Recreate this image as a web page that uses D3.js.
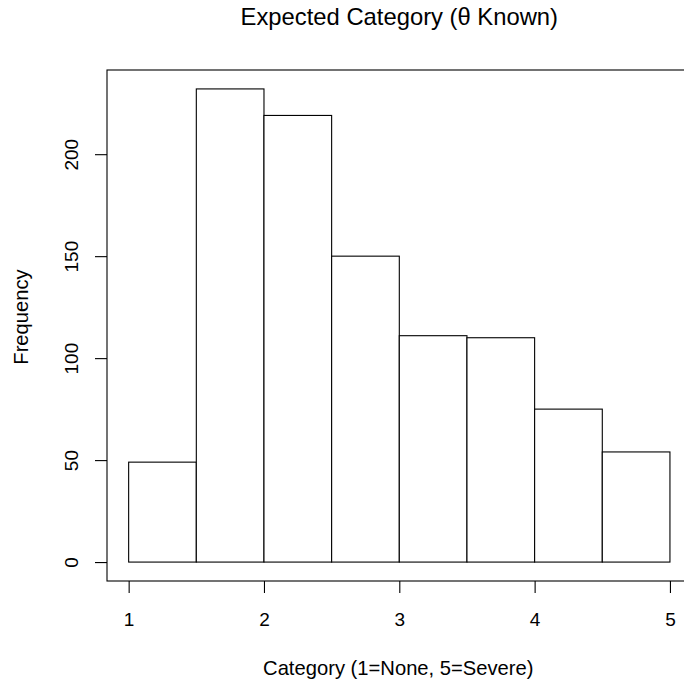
<!DOCTYPE html>
<html>
<head>
<meta charset="utf-8">
<script src="https://cdn.jsdelivr.net/npm/d3@7"></script>
<style>
  body { margin: 0; background: #fff; }
  text { font-family: "Liberation Sans", Arial, sans-serif; fill: #000; }
</style>
</head>
<body>
<script>
// histogram bins (break points) and counts
var breaks = [1, 1.5, 2, 2.5, 3, 3.5, 4, 4.5, 5];
var counts = [49, 232, 219, 150, 111, 110, 75, 54];
var xTicks = [1, 2, 3, 4, 5];
var yTicks = [0, 50, 100, 150, 200];

var bins = counts.map(function(c, i) {
    return { x0: breaks[i], x1: breaks[i + 1], n: c };
});

var width = 684, height = 686;
var plot = { left: 107, right: 691.6, top: 70, bottom: 581 };

var svg = d3.select("body").append("svg")
    .attr("width", width)
    .attr("height", height);

// R style: data range padded by 4% on each side
var xPad = (d3.max(breaks) - d3.min(breaks)) * 0.04;
var x = d3.scaleLinear()
    .domain([d3.min(breaks) - xPad, d3.max(breaks) + xPad])
    .range([plot.left, plot.right]);

var yMax = d3.max(counts);
var y = d3.scaleLinear()
    .domain([-yMax * 0.04, yMax * 1.04])
    .range([plot.bottom, plot.top]);

// bars
svg.append("g")
    .selectAll("rect")
    .data(bins)
    .enter().append("rect")
    .attr("x", function(d) { return x(d.x0); })
    .attr("y", function(d) { return y(d.n); })
    .attr("width", function(d) { return x(d.x1) - x(d.x0); })
    .attr("height", function(d) { return y(0) - y(d.n); })
    .attr("fill", "#fff")
    .attr("stroke", "#000")
    .attr("stroke-width", 1.1);

// box around plot region (goes off the right edge)
svg.append("rect")
    .attr("x", plot.left)
    .attr("y", plot.top)
    .attr("width", plot.right - plot.left)
    .attr("height", plot.bottom - plot.top)
    .attr("fill", "none")
    .attr("stroke", "#000")
    .attr("stroke-width", 1.1);

// x axis
var xAxis = svg.append("g")
    .attr("transform", "translate(0," + plot.bottom + ")")
    .call(d3.axisBottom(x).tickValues(xTicks).tickSize(12).tickPadding(20)
        .tickFormat(d3.format("d")));
xAxis.select(".domain").remove();
xAxis.selectAll("line").attr("stroke", "#000").attr("stroke-width", 1.1);
xAxis.selectAll("text")
    .attr("font-size", "19px")
    .attr("font-family", "Liberation Sans, Arial, sans-serif");

// y axis (labels rotated like R's default las=0)
var yAxis = svg.append("g")
    .attr("transform", "translate(" + plot.left + ",0)")
    .call(d3.axisLeft(y).tickValues(yTicks).tickSize(12).tickFormat(d3.format("d")));
yAxis.select(".domain").remove();
yAxis.selectAll("line").attr("stroke", "#000").attr("stroke-width", 1.1);
yAxis.selectAll("text")
    .attr("x", null).attr("dy", null)
    .attr("transform", "translate(-29,0) rotate(-90)")
    .attr("text-anchor", "middle")
    .attr("font-size", "19px")
    .attr("font-family", "Liberation Sans, Arial, sans-serif");

var midX = (plot.left + plot.right) / 2;

// title
svg.append("text")
    .attr("x", midX)
    .attr("y", 25)
    .attr("text-anchor", "middle")
    .style("font-size", "23.8px")
    .text("Expected Category (\u03b8 Known)");

// axis labels
svg.append("text")
    .attr("x", midX - 1)
    .attr("y", 675)
    .attr("text-anchor", "middle")
    .style("font-size", "20.2px")
    .text("Category (1=None, 5=Severe)");

svg.append("text")
    .attr("transform", "translate(28,317) rotate(-90)")
    .attr("text-anchor", "middle")
    .style("font-size", "20.2px")
    .text("Frequency");
</script>
</body>
</html>
